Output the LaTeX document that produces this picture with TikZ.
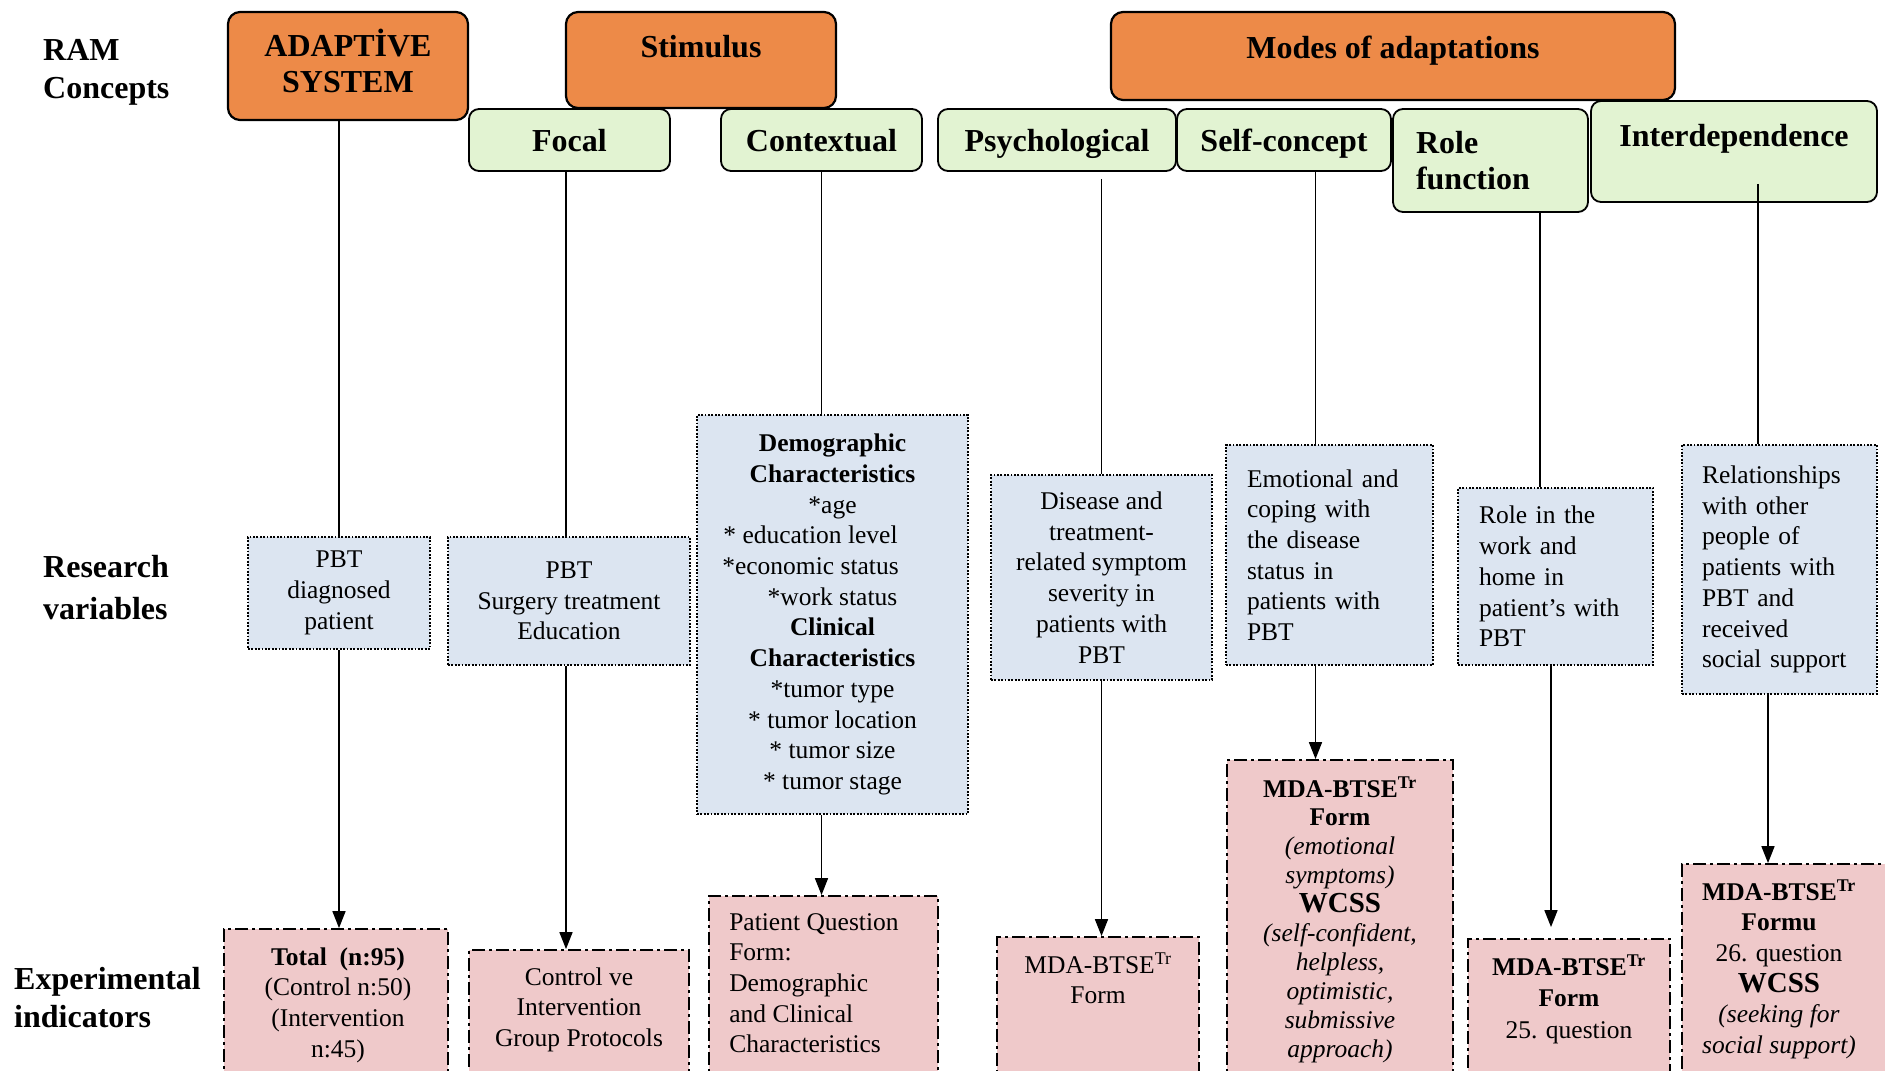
\documentclass[tikz,border=0pt]{standalone}
\usepackage{fontspec}
\setmainfont{Liberation Serif}
\usetikzlibrary{arrows.meta,calc}
\definecolor{orng}{RGB}{237,138,72}
\definecolor{grn}{RGB}{226,243,210}
\definecolor{blu}{RGB}{220,229,241}
\definecolor{pnk}{RGB}{239,201,202}
\begin{document}
\begin{tikzpicture}[x=1pt,y=-1pt,
 hdr/.style={draw=black, line width=2.2pt, rounded corners=12pt, fill=orng, font=\fontsize{32}{36}\selectfont\bfseries, align=center, inner sep=0pt},
 sub/.style={draw=black, line width=1.8pt, rounded corners=10pt, fill=grn, font=\fontsize{32}{36}\selectfont\bfseries, inner sep=0pt},
 one/.style={text height=22pt, text depth=0pt},
 var/.style={draw=black, line width=1.8pt, dash pattern=on 1.8pt off 1.6pt, fill=blu, font=\fontsize{25.5}{30.7}\selectfont, inner sep=0pt},
 ind/.style={draw=black, line width=1.8pt, dash pattern=on 13pt off 4pt on 3pt off 4pt, fill=pnk, inner sep=0pt},
 txt/.style={font=\fontsize{25.5}{30.7}\selectfont, inner sep=0pt, anchor=north},
 lbl/.style={font=\fontsize{32}{38}\selectfont\bfseries, align=left, inner sep=0pt, anchor=west},
 conn/.style={line width=1.6pt},
 arr/.style={line width=1.6pt, -{Triangle[length=17pt,width=13pt]}},
]
\useasboundingbox (0,0) rectangle (1885,1071);
\clip (0,0) rectangle (1885,1071);
\fill[white] (0,0) rectangle (1885,1071);

% row labels
\node[lbl] (l1) at (43,72.5) {RAM\\Concepts};
\node[lbl, font=\fontsize{32}{42}\selectfont\bfseries] (l2) at (43,588) {Research\\variables};
\node[lbl] (l3) at (14,998) {Experimental\\indicators};

% headers
\node[hdr, minimum width=240, minimum height=108, text depth=10pt] (adapt) at (348,66) {ADAPTİVE\\SYSTEM};
\node[hdr, minimum width=270, minimum height=96, text height=22pt, text depth=28pt] (stim) at (701,60) {Stimulus};
\node[hdr, minimum width=564, minimum height=88, text height=22pt, text depth=18pt] (modes) at (1393,56) {Modes of adaptations};

\node[sub, one, minimum width=201, minimum height=62] (focal) at (569.5,140) {Focal};
\node[sub, one, minimum width=201, minimum height=62] (context) at (821.5,140) {Contextual};
\node[sub, one, minimum width=238, minimum height=62] (psych) at (1057,140) {Psychological};
\node[sub, one, minimum width=214, minimum height=62] (selfc) at (1284,140) {Self-concept};
\node[sub, minimum width=195, minimum height=103, align=left, text width=149pt, inner xsep=23pt] (role) at (1490.5,160.5) {Role\\function};
\node[sub, minimum width=286, minimum height=101, text height=22pt, text depth=33pt] (inter) at (1734,151.5) {Interdependence};

% research variables
\node[var, minimum width=182, minimum height=112, align=center] (rA) at (339,593) {PBT\\diagnosed\\patient};
\node[var, minimum width=242, minimum height=128, align=center] (rB) at (569,601) {PBT\\Surgery treatment\\Education};
\node[var, minimum width=271, minimum height=399, align=center] (rC) at (832.5,614.5)
 {\textbf{Demographic}\\\textbf{Characteristics}\\*age\\* education level\rule{44pt}{0pt}\\*economic status\rule{44pt}{0pt}\\*work status\\\textbf{Clinical}\\\textbf{Characteristics}\\*tumor type\\* tumor location\\* tumor size\\* tumor stage};
\node[var, minimum width=221, minimum height=205, align=center] (rD) at (1101.5,577.5) {Disease and\\treatment-\\related symptom\\severity in\\patients with\\PBT};
\node[var, minimum height=220, align=left, text width=165pt, inner xsep=21pt] (rE) at (1329.5,555) {Emotional and\\coping with\\the disease\\status in\\patients with\\PBT};
\node[var, minimum height=177, align=left, text width=153pt, inner xsep=21pt] (rF) at (1555.5,576.5) {Role in the\\work and\\home in\\patient’s with\\PBT};
\node[var, minimum height=249, align=left, text width=155pt, inner xsep=20pt] (rG) at (1779.5,569.5) {Relationships\\with other\\people of\\patients with\\PBT and\\received\\social support};

% experimental indicators (boxes run past the bottom edge)
\node[ind, minimum width=224, minimum height=200] (eA) at (336,1029) {};
\node[ind, minimum width=220, minimum height=200] (eB) at (579,1050) {};
\node[ind, minimum width=229, minimum height=250] (eC) at (823.5,1021) {};
\node[ind, minimum width=202, minimum height=200] (eD) at (1098,1037) {};
\node[ind, minimum width=226, minimum height=360] (eE) at (1340,940) {};
\node[ind, minimum width=202, minimum height=200] (eF) at (1569,1039) {};
\node[ind, minimum width=206, minimum height=260] (eG) at (1785,994) {};

\node[txt, align=center] (tA) at ($(eA.north)+(2,19)$) {\textbf{Total\ \ (n:95)}\\(Control n:50)\\(Intervention\\n:45)};
\node[txt, align=center] (tB) at ($(eB.north)+(0,18)$) {Control ve\\Intervention\\Group Protocols};
\node[txt, align=left, anchor=north west] (tC) at ($(eC.north west)+(21,18)$) {Patient Question\\Form:\\Demographic\\and Clinical\\Characteristics};
\node[txt, align=center] (tD) at ($(eD.north)+(0,16)$) {MDA-BTSE\textsuperscript{Tr}\\Form};
\node[txt, align=center, font=\fontsize{25.5}{28.9}\selectfont] (tE) at ($(eE.north)+(0,17)$)
 {\textbf{MDA-BTSE\textsuperscript{Tr}}\\\textbf{Form}\\\textit{(emotional}\\\textit{symptoms)}\\{\fontsize{29}{29}\selectfont\textbf{WCSS}}\\\textit{(self-confident,}\\\textit{helpless,}\\\textit{optimistic,}\\\textit{submissive}\\\textit{approach)}};
\node[txt, align=center, font=\fontsize{25.5}{31.5}\selectfont] (tF) at ($(eF.north)+(0,16)$) {\textbf{MDA-BTSE\textsuperscript{Tr}}\\\textbf{Form}\\25. question};
\node[txt, align=center] (tG) at ($(eG.north)+(-6,16)$) {\textbf{MDA-BTSE\textsuperscript{Tr}}\\\textbf{Formu}\\26. question\\{\fontsize{29}{29}\selectfont\textbf{WCSS}}\\\textit{(seeking for}\\\textit{social support)}};

% connectors
\draw[conn] (rA.north |- adapt.south) -- (rA.north);
\draw[arr] (rA.south) -- (rA.south |- eA.north);

\draw[conn] ($(focal.south)+(-3.5,0)$) -- ($(focal.south |- rB.north)+(-3.5,0)$);
\draw[arr] ($(focal.south |- rB.south)+(-3.5,0)$) -- ($(focal.south |- eB.north)+(-3.5,0)$);

\draw[conn] (context.south) -- (context.south |- rC.north);
\draw[arr] (context.south |- rC.south) -- (context.south |- eC.north);

\draw[conn] ($(rD.north |- psych.south)+(0,7)$) -- (rD.north);
\draw[arr] (rD.south) -- (rD.south |- eD.north);

\draw[conn] ($(rE.north |- selfc.south)+(-14,0)$) -- ($(rE.north)+(-14,0)$);
\draw[arr] ($(rE.south)+(-14,0)$) -- ($(rE.south |- eE.north)+(-14,0)$);

\draw[conn] ($(rF.north |- role.south)+(-15.5,0)$) -- ($(rF.north)+(-15.5,0)$);
\draw[arr] ($(rF.south)+(-4.5,0)$) -- ($(rF.south |- eF.north)+(-4.5,-11)$);

\draw[conn] ($(rG.north |- inter.south)+(-21.5,-19)$) -- ($(rG.north)+(-21.5,0)$);
\draw[arr] ($(rG.south)+(-11.5,0)$) -- ($(rG.south |- eG.north)+(-11.5,0)$);
\end{tikzpicture}
\end{document}
